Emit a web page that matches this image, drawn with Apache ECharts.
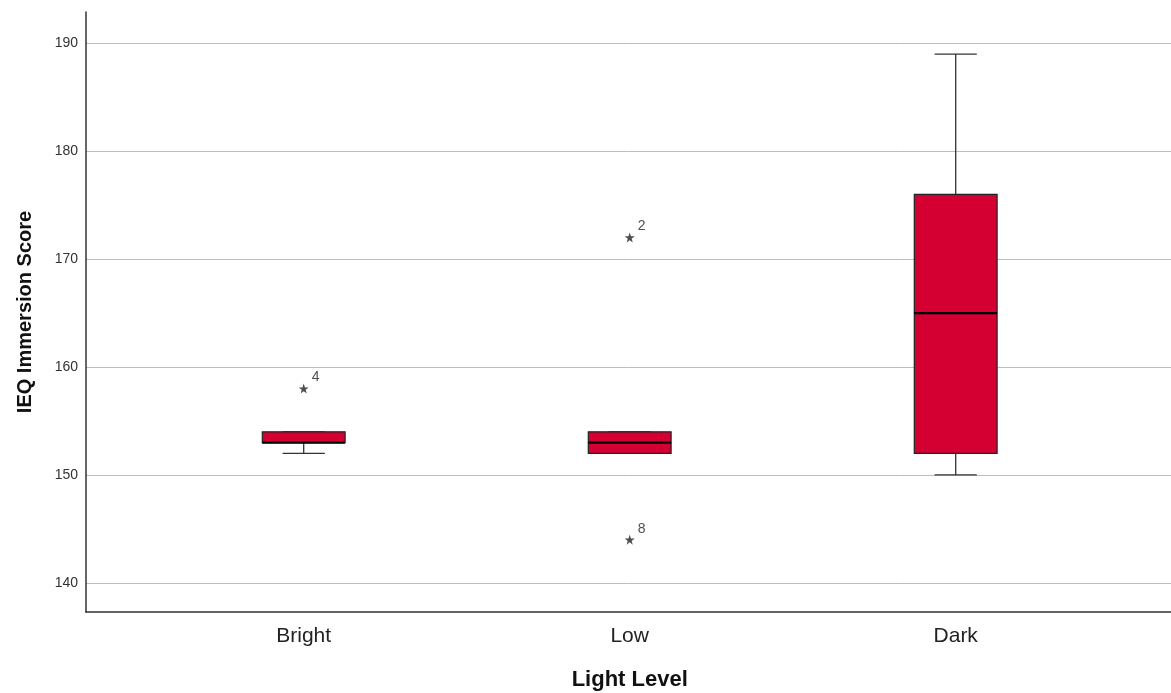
<!DOCTYPE html>
<html>
<head>
<meta charset="utf-8">
<script src="https://cdn.jsdelivr.net/npm/echarts@6/dist/echarts.min.js"></script>
<style>
html,body{margin:0;padding:0;background:#fff;}
#chart{width:1171px;height:693px;}
</style>
</head>
<body>
<div id="chart"></div>
<script>
const categories = ['Bright', 'Low', 'Dark'];
const minVals = [152, 152, 150];
const q1Vals = [153, 152, 152];
const medianVals = [153, 153, 165];
const q3Vals = [154, 154, 176];
const maxVals = [154, 154, 189];
const outlierCats = [0, 1, 1];
const outlierVals = [158, 172, 144];
const outlierLabels = ['4', '2', '8'];

const FONT = '"Liberation Sans", Arial, sans-serif';
const boxData = categories.map((c, i) => [i, minVals[i], q1Vals[i], medianVals[i], q3Vals[i], maxVals[i]]);
const outData = outlierVals.map((v, i) => [outlierCats[i], v, outlierLabels[i]]);

const Y_MIN = 137.3, Y_MAX = 192.9;
const chart = echarts.init(document.getElementById('chart'));
const starPath = 'path://M50,0 L61.8,35.1 L97.6,35.1 L68.6,56.7 L79.4,91.6 L50,70 L20.6,91.6 L31.4,56.7 L2.4,35.1 L38.2,35.1 Z';

chart.setOption({
  backgroundColor: '#ffffff',
  animation: false,
  grid: [
    { left: 86, right: 0, top: 12, bottom: 81, containLabel: false, outerBoundsMode: 'none' },
    { left: 140.7, right: 52.3, top: 12, bottom: 81, containLabel: false, outerBoundsMode: 'none' }
  ],
  xAxis: [
    { type: 'value', gridIndex: 0, min: 0, max: 1,
      axisLine: { show: true, onZero: false, lineStyle: { color: '#333', width: 1.5 } },
      axisTick: { show: false }, axisLabel: { show: false }, splitLine: { show: false } },
    { type: 'category', gridIndex: 1, data: categories,
      axisLine: { show: false }, axisTick: { show: false },
      axisLabel: { color: '#222', fontSize: 21, fontFamily: FONT, margin: 14 },
      name: 'Light Level', nameLocation: 'middle', nameGap: 57,
      nameTextStyle: { color: '#111', fontSize: 22, fontWeight: 'bold', fontFamily: FONT } }
  ],
  yAxis: [
    { type: 'value', gridIndex: 0, min: Y_MIN, max: Y_MAX, splitNumber: 5,
      axisLine: { show: true, lineStyle: { color: '#333', width: 1.5 } },
      axisTick: { show: false },
      axisLabel: { color: '#333', fontSize: 14, fontFamily: FONT, margin: 8, showMinLabel: false, showMaxLabel: false },
      splitLine: { show: true, showMinLine: false, showMaxLine: false, lineStyle: { color: '#bdbdbd', width: 1 } },
      name: 'IEQ Immersion Score', nameLocation: 'middle', nameGap: 51,
      nameTextStyle: { color: '#111', fontSize: 20, fontWeight: 'bold', fontFamily: FONT } },
    { type: 'value', gridIndex: 1, min: Y_MIN, max: Y_MAX, show: false, splitLine: { show: false } }
  ],
  series: [
    {
      type: 'custom', xAxisIndex: 1, yAxisIndex: 1,
      data: boxData,
      encode: { x: 0, y: [1, 2, 3, 4, 5] },
      renderItem: function (params, api) {
        const i = api.value(0);
        const x = api.coord([i, api.value(3)])[0];
        const yMin = api.coord([i, api.value(1)])[1];
        const yQ1 = api.coord([i, api.value(2)])[1];
        const yMed = api.coord([i, api.value(3)])[1];
        const yQ3 = api.coord([i, api.value(4)])[1];
        const yMax = api.coord([i, api.value(5)])[1];
        const bw = api.size([1, 0])[0];
        const boxW = bw * 0.254;
        const capW = boxW * 0.51;
        const ls = { stroke: '#333', lineWidth: 1.3 };
        return {
          type: 'group',
          children: [
            { type: 'line', shape: { x1: x, y1: yMin, x2: x, y2: yQ1 }, style: ls },
            { type: 'line', shape: { x1: x - capW / 2, y1: yMin, x2: x + capW / 2, y2: yMin }, style: ls },
            { type: 'line', shape: { x1: x, y1: yQ3, x2: x, y2: yMax }, style: ls },
            { type: 'line', shape: { x1: x - capW / 2, y1: yMax, x2: x + capW / 2, y2: yMax }, style: ls },
            { type: 'rect', shape: { x: x - boxW / 2, y: yQ3, width: boxW, height: yQ1 - yQ3 },
              style: { fill: '#d50032', stroke: '#222', lineWidth: 1.2 } },
            { type: 'line', shape: { x1: x - boxW / 2, y1: yMed, x2: x + boxW / 2, y2: yMed },
              style: { stroke: '#000', lineWidth: 2.2 } }
          ]
        };
      }
    },
    {
      type: 'scatter', xAxisIndex: 1, yAxisIndex: 1,
      data: outData,
      symbol: starPath, symbolSize: 10,
      itemStyle: { color: '#222' },
      label: {
        show: true, position: 'right', distance: 2, offset: [1, -11],
        formatter: p => p.value[2],
        color: '#222', fontSize: 14, fontFamily: FONT
      }
    }
  ]
});
</script>
</body>
</html>
